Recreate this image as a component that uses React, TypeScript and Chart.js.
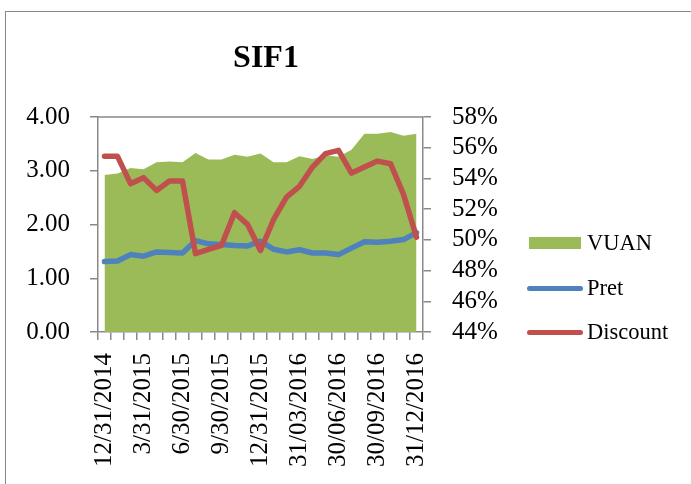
import React, { useEffect, useRef } from 'react';
import { Chart, registerables } from 'chart.js';

Chart.register(...registerables);

const categories = [
  '12/31/2014', '1/31/2015', '2/28/2015', '3/31/2015', '4/30/2015', '5/31/2015',
  '6/30/2015', '7/31/2015', '8/31/2015', '9/30/2015', '10/31/2015', '11/30/2015',
  '12/31/2015', '31/01/2016', '29/02/2016', '31/03/2016', '30/04/2016', '31/05/2016',
  '30/06/2016', '31/07/2016', '31/08/2016', '30/09/2016', '31/10/2016', '30/11/2016',
  '31/12/2016',
];

const vuan = [
  2.92, 2.95, 3.05, 3.03, 3.16, 3.17, 3.16, 3.33, 3.21, 3.21, 3.30, 3.26, 3.32,
  3.16, 3.16, 3.27, 3.22, 3.29, 3.26, 3.39, 3.69, 3.69, 3.72, 3.65, 3.69,
];

const pret = [
  1.31, 1.32, 1.44, 1.41, 1.49, 1.48, 1.47, 1.70, 1.64, 1.63, 1.61, 1.60, 1.69,
  1.54, 1.49, 1.53, 1.47, 1.47, 1.44, 1.56, 1.68, 1.67, 1.69, 1.72, 1.85,
];

const discount = [
  55.44, 55.44, 53.66, 54.05, 53.22, 53.83, 53.83, 49.10, 49.38, 49.64, 51.77, 51.01, 49.31,
  51.31, 52.79, 53.49, 54.74, 55.62, 55.83, 54.35, 54.74, 55.13, 54.96, 52.96, 50.18,
];

const seriesNames = ['VUAN', 'Pret', 'Discount'];
const titleText = 'SIF1';

const GREEN = '#9BBB59';
const BLUE = '#4F81BD';
const RED = '#C0504D';
const AXIS = '#898989';
const FONT = "'Liberation Serif', 'Times New Roman', serif";

const framePlugin = {
  id: 'frameTop',
  afterDatasetsDraw(chart: any) {
    const { ctx, chartArea } = chart;
    ctx.save();
    ctx.strokeStyle = AXIS;
    ctx.lineWidth = 1.5;
    ctx.beginPath();
    ctx.moveTo(chartArea.left, chartArea.top);
    ctx.lineTo(chartArea.right, chartArea.top);
    ctx.stroke();
    ctx.restore();
  },
};

export default function App() {
  const canvasRef = useRef<HTMLCanvasElement | null>(null);

  useEffect(() => {
    document.body.style.margin = '0';
    const canvas = canvasRef.current;
    if (!canvas) return;
    const tickFont = { family: FONT, size: 25 };
    const chart = new Chart(canvas, {
      type: 'line',
      data: {
        labels: categories,
        datasets: [
          {
            label: seriesNames[0],
            data: vuan,
            yAxisID: 'y',
            fill: 'origin',
            backgroundColor: GREEN,
            borderColor: GREEN,
            borderWidth: 0,
            pointRadius: 0,
            tension: 0,
            order: 3,
          },
          {
            label: seriesNames[1],
            data: pret,
            yAxisID: 'y',
            fill: false,
            borderColor: BLUE,
            backgroundColor: BLUE,
            borderWidth: 5.5,
            borderJoinStyle: 'round',
            borderCapStyle: 'round',
            pointRadius: 0,
            tension: 0,
            order: 2,
          },
          {
            label: seriesNames[2],
            data: discount,
            yAxisID: 'y1',
            fill: false,
            borderColor: RED,
            backgroundColor: RED,
            borderWidth: 5.5,
            borderJoinStyle: 'round',
            borderCapStyle: 'round',
            pointRadius: 0,
            tension: 0,
            order: 1,
          },
        ],
      },
      options: {
        animation: false,
        responsive: false,
        maintainAspectRatio: false,
        layout: { padding: { left: 0, right: 159, top: 0, bottom: 0 } },
        plugins: {
          legend: { display: false },
          tooltip: { enabled: false },
          title: {
            display: true,
            text: titleText,
            color: '#000',
            font: { family: FONT, size: 32, weight: 'bold', lineHeight: 1.2 },
            padding: { top: 39.5, bottom: 39.1 },
          },
        },
        scales: {
          x: {
            type: 'category',
            offset: true,
            grid: {
              offset: true,
              drawOnChartArea: false,
              drawTicks: true,
              tickLength: 8,
              color: AXIS,
              lineWidth: 1.5,
            },
            border: { display: true, color: AXIS, width: 1.5 },
            ticks: {
              autoSkip: false,
              maxRotation: 90,
              minRotation: 90,
              padding: 13,
              color: '#000',
              font: tickFont,
              callback: (_v: any, i: number) => (i % 3 === 0 ? categories[i] : ''),
            },
            afterFit: (s: any) => {
              s.height = 152;
            },
          },
          y: {
            position: 'left',
            min: 0,
            max: 4,
            grid: {
              drawOnChartArea: false,
              drawTicks: true,
              tickLength: 8,
              color: AXIS,
              lineWidth: 1.5,
            },
            border: { display: true, color: AXIS, width: 1.5 },
            ticks: {
              autoSkip: false,
              stepSize: 1,
              padding: 20,
              color: '#000',
              font: tickFont,
              callback: (v: any) => Number(v).toFixed(2),
            },
            afterFit: (s: any) => {
              s.width = 98;
            },
          },
          y1: {
            position: 'right',
            min: 44,
            max: 58,
            grid: {
              drawOnChartArea: false,
              drawTicks: true,
              tickLength: 8,
              color: AXIS,
              lineWidth: 1.5,
            },
            border: { display: true, color: AXIS, width: 1.5 },
            ticks: {
              autoSkip: false,
              stepSize: 2,
              padding: 21,
              color: '#000',
              font: tickFont,
              callback: (v: any) => `${v}%`,
            },
            afterFit: (s: any) => {
              s.width = 109;
            },
          },
        },
      },
      plugins: [framePlugin],
    });
    return () => chart.destroy();
  }, []);

  const legendText: React.CSSProperties = {
    position: 'absolute',
    left: 587,
    fontFamily: FONT,
    fontSize: 22.5,
    color: '#000',
    lineHeight: '26px',
    height: 26,
    whiteSpace: 'nowrap',
  };

  return (
    <div
      style={{
        position: 'fixed',
        left: 0,
        top: 0,
        width: 691,
        height: 484,
        overflow: 'hidden',
        background: '#fff',
      }}
    >
      <div
        style={{
          position: 'absolute',
          left: 5,
          top: 11,
          width: 760,
          height: 560,
          border: '1px solid #878787',
          boxSizing: 'border-box',
        }}
      />
      <canvas
        ref={canvasRef}
        width={691}
        height={484}
        style={{ position: 'absolute', left: 0, top: 0, width: 691, height: 484 }}
      />
      <div style={{ position: 'absolute', left: 529, top: 237, width: 52, height: 12, background: GREEN }} />
      <div style={{ ...legendText, top: 230 }}>{seriesNames[0]}</div>
      <div
        style={{ position: 'absolute', left: 527, top: 285.5, width: 56, height: 5, borderRadius: 3, background: BLUE }}
      />
      <div style={{ ...legendText, top: 275 }}>{seriesNames[1]}</div>
      <div
        style={{ position: 'absolute', left: 527, top: 330, width: 56, height: 5, borderRadius: 3, background: RED }}
      />
      <div style={{ ...legendText, top: 319 }}>{seriesNames[2]}</div>
    </div>
  );
}
